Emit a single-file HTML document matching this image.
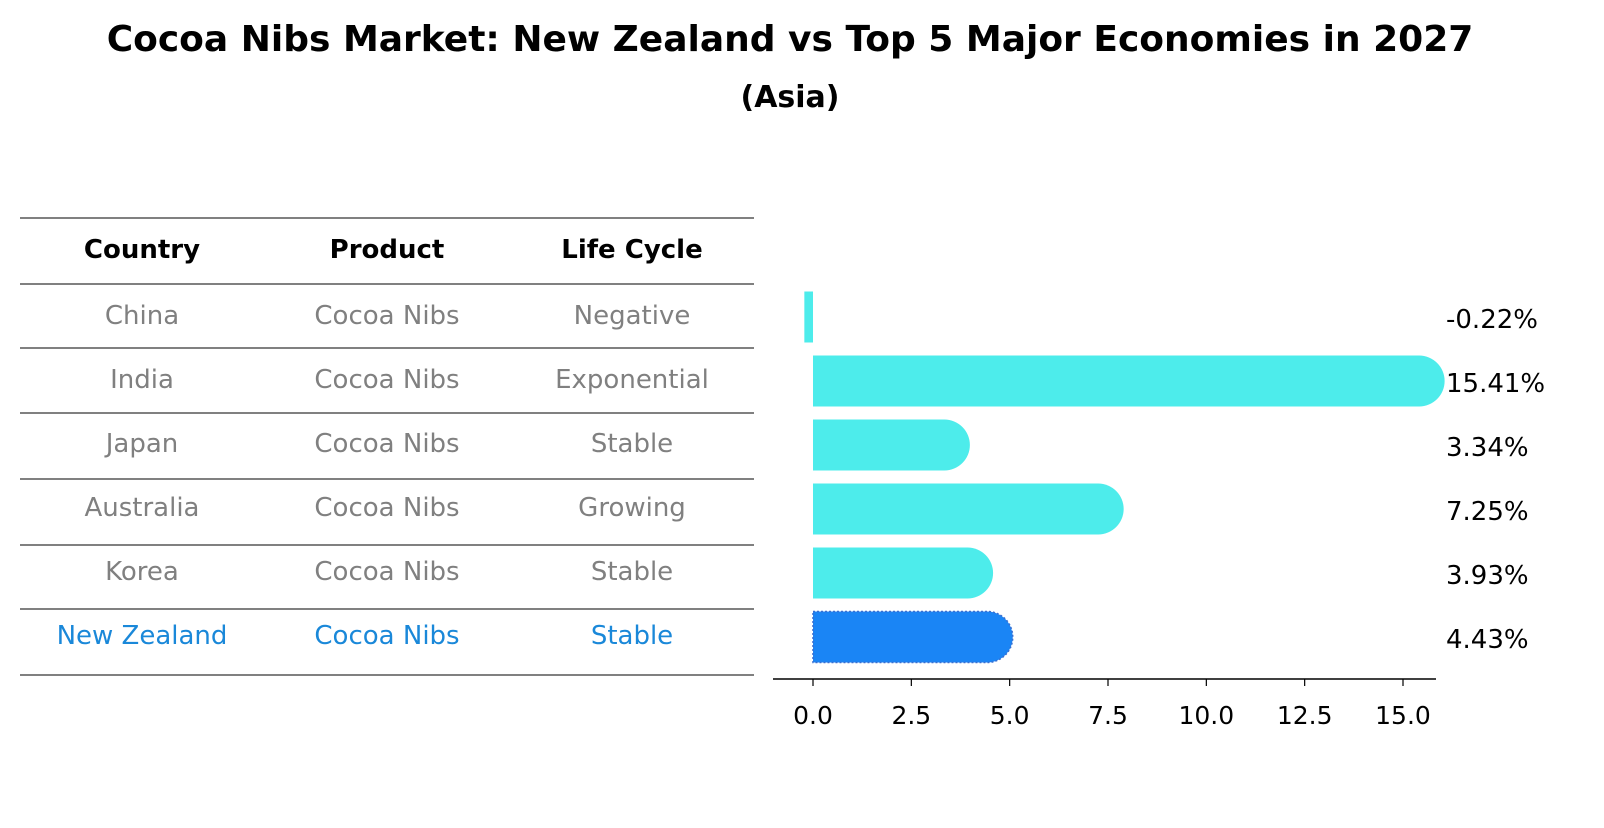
<!DOCTYPE html>
<html><head><meta charset="utf-8"><style>
body{margin:0;background:#fff;font-family:"Liberation Sans","DejaVu Sans",sans-serif;}
</style></head><body>
<svg width="1604" height="823" viewBox="0 0 1604 823" xmlns="http://www.w3.org/2000/svg" font-family="DejaVu Sans, Liberation Sans, sans-serif">
<text x="790" y="51" text-anchor="middle" font-size="36" font-weight="bold">Cocoa Nibs Market: New Zealand vs Top 5 Major Economies in 2027</text>
<text x="790" y="107" text-anchor="middle" font-size="30" font-weight="bold">(Asia)</text>
<g id="table"></g>
<g id="bars"></g>
</svg>
<script>
const countries=["China","India","Japan","Australia","Korea","New Zealand"];
const products=["Cocoa Nibs","Cocoa Nibs","Cocoa Nibs","Cocoa Nibs","Cocoa Nibs","Cocoa Nibs"];
const lifecycles=["Negative","Exponential","Stable","Growing","Stable","Stable"];
const growth=[-0.22,15.41,3.34,7.25,3.93,4.43];
const ticks=[0,2.5,5,7.5,10,12.5,15];
const NS="http://www.w3.org/2000/svg";
const X=v=>813+v*(590/15);
const rowY=i=>317+i*64;
function mk(tag,attrs,parent,txt){const e=document.createElementNS(NS,tag);for(const k in attrs)e.setAttribute(k,attrs[k]);if(txt!==undefined)e.textContent=txt;parent.appendChild(e);return e;}
const tbl=document.getElementById('table');
const lines=[218,284,348,413,479,545,609,675];
lines.forEach((y,i)=>{const l=mk('line',{x1:20,x2:754,y1:y,y2:y,stroke:'#000','stroke-width':1},tbl);

});
const cols=[142,387,632];
["Country","Product","Life Cycle"].forEach((h,j)=>{const t=mk('text',{x:cols[j],y:258,'text-anchor':'middle','font-size':26,'font-weight':'bold'},tbl,h);

});
countries.forEach((c,i)=>{const col=i===countries.length-1?'#1a88d9':'#808080';
[c,products[i],lifecycles[i]].forEach((v,j)=>{const t=mk('text',{x:cols[j],y:rowY(i)+7,'text-anchor':'middle','font-size':26,fill:col},tbl,v);

});});
const bars=document.getElementById('bars');
const h=51,r=25.5;
growth.forEach((v,i)=>{const y0=rowY(i)-h/2;const last=i===growth.length-1;const fill=last?'#1a85f5':'#4deceb';
let d;const x0=X(0),x1=X(v);
if(v>=0){d=`M${x0},${y0}H${x1}A${r},${r} 0 0 1 ${x1},${y0+h}H${x0}Z`;}
else{d=`M${x1},${y0}H${x0}V${y0+h}H${x1}Z`;}
const p=mk('path',{d:d,fill:fill},bars);
if(last){p.setAttribute('stroke','#3a6fd0');p.setAttribute('stroke-dasharray','2,2');p.setAttribute('stroke-width','1.5');}


const t=mk('text',{x:1446,y:rowY(i)+11,'font-size':26},bars,v.toFixed(2)+'%');

});
const ax=mk('line',{x1:773,x2:1436,y1:679,y2:679,stroke:'#000','stroke-width':1.5},bars);


ticks.forEach(tv=>{const tl=mk('line',{x1:X(tv),x2:X(tv),y1:679,y2:686,stroke:'#000','stroke-width':1.2},bars);


const t=mk('text',{x:X(tv),y:724,'text-anchor':'middle','font-size':25},bars,tv.toFixed(1));

});
</script>
</body></html>
